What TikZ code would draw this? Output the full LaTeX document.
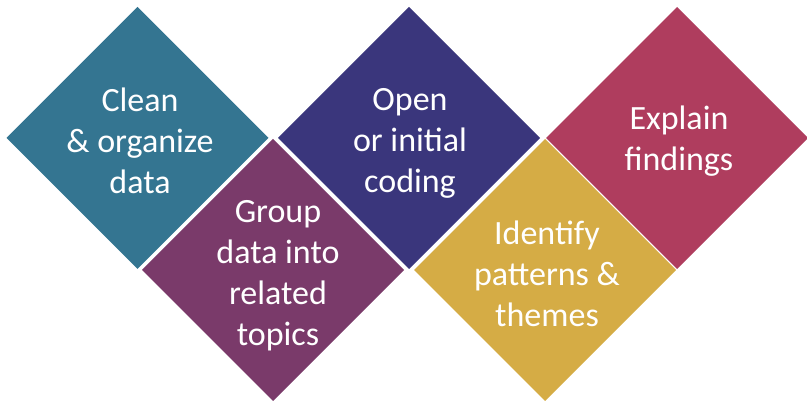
\documentclass[tikz,border=0pt]{standalone}
\usepackage{fontspec}
\setmainfont{Carlito}
\usetikzlibrary{shapes.geometric}
\definecolor{phaseteal}{HTML}{347591}
\definecolor{phaseplum}{HTML}{7A3A6A}
\definecolor{phaseindigo}{HTML}{3A367C}
\definecolor{phasegold}{HTML}{D5AC45}
\definecolor{phasecrimson}{HTML}{AF3D5E}
\begin{document}
\begin{tikzpicture}[%
        x=1pt,y=-1pt,%
        phase/.style={%
            diamond,%
            aspect=1,%
            minimum size=262pt,%
            inner sep=0pt,%
            outer sep=0pt%
        },%
        caption/.style={%
            align=center,%
            inner sep=0pt,%
            text=white,%
            font=\fontsize{34}{41}\selectfont%
        }%
    ]
    \useasboundingbox (0,0) rectangle (807,403);
    \node (clean)    at (137.5,138) [phase,fill=phaseteal]{};
    \node (group)    at (273,270)   [phase,fill=phaseplum]{};
    \node (open)     at (409,138)   [phase,fill=phaseindigo]{};
    \node (identify) at (545,270)   [phase,fill=phasegold]{};
    \node (explain)  at (677,138)   [phase,fill=phasecrimson]{};
    \node (cleantext)    at (140,141) [caption]{Clean\\\& organize\\data};
    \node (grouptext)    at (278,276) [caption]{Group\\data into\\related\\topics};
    \node (opentext)     at (410,143) [caption]{Open\\or initial\\coding};
    \node (identifytext) at (547,274) [caption]{Identify\\patterns \&\\themes};
    \node (explaintext)  at (679,141) [caption]{Explain\\findings};
\end{tikzpicture}
\end{document}
